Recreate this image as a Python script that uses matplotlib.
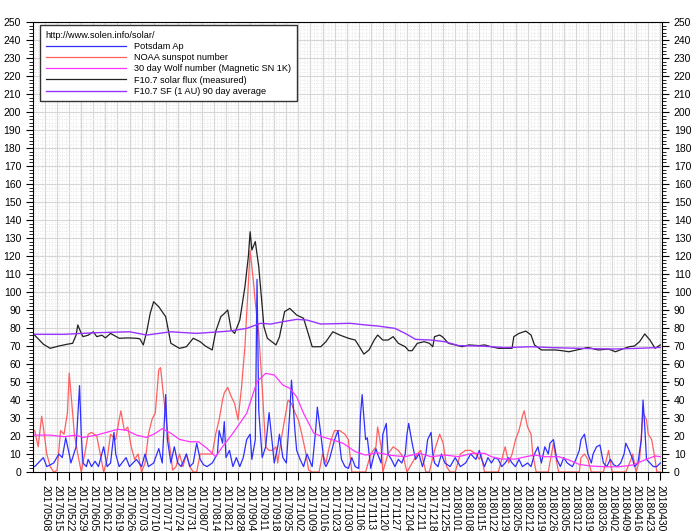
import pandas as pd
import matplotlib
matplotlib.use("Agg")
import matplotlib.pyplot as plt
import matplotlib.dates as mdates
from matplotlib.ticker import MultipleLocator, FixedLocator

plt.rcParams["font.family"] = ["Liberation Sans", "DejaVu Sans"]

# --- data: (day offset from 2017-05-01, value) ---
start = pd.Timestamp("2017-05-01")
end = pd.Timestamp("2018-05-01")
tick_dates = pd.date_range("2017-05-08", "2018-04-30", freq="7D")

potsdam_ap = [
    (1, 3), (6, 8), (8, 3), (12, 5), (15, 10), (17, 8), (19, 19), (21, 10), (22, 5), (25, 14),
    (27, 48), (28, 21), (29, 5), (31, 3), (32, 7), (34, 3), (36, 6), (38, 3), (41, 14), (43, 3),
    (45, 5), (47, 22), (48, 10), (50, 3), (54, 8), (56, 3), (60, 7), (63, 3), (65, 10), (67, 3),
    (70, 5), (73, 13), (75, 5), (77, 43), (78, 18), (80, 5), (82, 14), (84, 5), (86, 3), (89, 10),
    (91, 3), (93, 5), (95, 16), (97, 7), (99, 4), (101, 3), (104, 5), (107, 10), (108, 23), (110, 16),
    (111, 28), (112, 8), (114, 12), (116, 3), (118, 8), (120, 3), (122, 8), (124, 18), (126, 21), (127, 7),
    (129, 18), (130, 107), (131, 34), (133, 8), (135, 14), (137, 33), (139, 14), (140, 5), (142, 14), (143, 21),
    (145, 8), (147, 5), (149, 33), (150, 51), (152, 23), (153, 12), (155, 7), (157, 3), (159, 10), (162, 3),
    (164, 23), (165, 36), (167, 21), (169, 5), (170, 3), (172, 7), (175, 18), (177, 23), (179, 7), (181, 3),
    (183, 2), (185, 8), (187, 3), (189, 2), (190, 31), (191, 43), (193, 18), (194, 19), (196, 2), (198, 10),
    (199, 13), (200, 10), (202, 5), (203, 21), (205, 27), (206, 10), (208, 7), (210, 3), (212, 7), (214, 5),
    (216, 10), (217, 21), (218, 27), (220, 16), (222, 7), (224, 10), (226, 3), (228, 10), (229, 18), (231, 22),
    (232, 10), (233, 5), (235, 3), (237, 10), (239, 5), (242, 3), (245, 8), (248, 3), (251, 5), (254, 10),
    (257, 7), (259, 12), (260, 8), (262, 3), (264, 8), (266, 5), (268, 8), (270, 7), (272, 3), (274, 5),
    (276, 8), (278, 5), (280, 3), (282, 7), (284, 3), (287, 5), (289, 3), (291, 10), (293, 14), (295, 5),
    (297, 14), (299, 10), (300, 16), (302, 18), (304, 7), (306, 3), (308, 8), (310, 5), (313, 3), (315, 7),
    (317, 12), (318, 18), (320, 21), (322, 10), (324, 5), (325, 10), (327, 14), (329, 15), (331, 5), (333, 3),
    (335, 7), (337, 4), (339, 3), (341, 5), (343, 10), (344, 16), (346, 12), (348, 7), (349, 3), (351, 5),
    (353, 18), (354, 40), (355, 25), (356, 7), (358, 5), (360, 3), (362, 3), (364, 5),
]

noaa_ssn = [
    (1, 23), (3, 14), (5, 31), (6, 25), (8, 10), (10, 3), (12, 0), (14, 1), (16, 23), (18, 21),
    (20, 33), (21, 55), (22, 44), (24, 21), (26, 10), (28, 0), (30, 10), (32, 21), (34, 22), (37, 20),
    (39, 10), (41, 0), (43, 7), (45, 21), (48, 18), (50, 29), (51, 34), (53, 23), (55, 25), (57, 14),
    (59, 7), (61, 10), (63, 0), (65, 5), (67, 21), (69, 29), (71, 33), (73, 57), (74, 58), (76, 40),
    (78, 23), (80, 10), (81, 1), (83, 3), (85, 10), (87, 3), (89, 10), (91, 3), (93, 0), (95, 0),
    (97, 10), (99, 10), (101, 10), (104, 10), (106, 21), (108, 29), (110, 40), (111, 44), (113, 47), (115, 42),
    (117, 38), (119, 29), (121, 47), (123, 70), (125, 105), (126, 123), (128, 105), (129, 94), (131, 77), (133, 47),
    (135, 14), (137, 12), (139, 12), (141, 14), (142, 5), (144, 18), (146, 29), (148, 40), (150, 38), (152, 33),
    (154, 29), (156, 21), (158, 12), (160, 1), (162, 0), (164, 0), (166, 0), (168, 10), (170, 5), (171, 10),
    (173, 18), (175, 23), (178, 23), (181, 21), (183, 18), (185, 0), (189, 0), (193, 0), (196, 10), (199, 14),
    (200, 25), (202, 14), (203, 0), (206, 10), (209, 14), (212, 12), (215, 8), (217, 0), (220, 5), (223, 10),
    (225, 12), (228, 0), (230, 0), (233, 12), (236, 21), (238, 16), (240, 3), (242, 0), (245, 0), (248, 10),
    (251, 12), (254, 12), (257, 10), (259, 7), (260, 10), (262, 0), (266, 0), (270, 0), (274, 14), (276, 5),
    (278, 10), (280, 18), (282, 23), (284, 31), (285, 34), (287, 25), (289, 21), (290, 10), (292, 0), (295, 0),
    (299, 0), (302, 16), (303, 10), (305, 0), (309, 0), (313, 0), (317, 0), (318, 8), (320, 10), (322, 7),
    (324, 0), (328, 0), (331, 0), (334, 12), (336, 0), (340, 0), (344, 0), (347, 7), (348, 10), (350, 0),
    (352, 7), (354, 33), (356, 29), (357, 21), (359, 18), (361, 7), (362, 0), (364, 0),
]

wolf_30day = [
    (0, 20.5), (10, 20.5), (18, 19.6), (25, 20.5), (29, 19.2), (37, 20.5), (49, 23.7), (54, 23.3),
    (60, 20.5), (66, 19.2), (71, 21.5), (75, 24.1), (80, 21.5), (85, 18.1), (91, 16.8), (96, 16.8),
    (101, 13.1), (106, 8.5), (110, 14.1), (116, 21.5), (124, 32.6), (130, 50.2), (135, 54.8), (140, 53.9),
    (145, 48.3), (149, 46.5), (153, 41.8), (157, 32.6), (163, 21.5), (169, 19.2), (174, 17.8), (180, 15.9),
    (187, 11.3), (193, 9.4), (200, 10.7), (208, 9.2), (216, 8.5), (224, 10.4), (231, 8.5), (239, 9.4),
    (247, 8.5), (255, 10.4), (262, 10.4), (266, 8.5), (272, 7.2), (280, 7.2), (286, 8.5), (291, 9.4),
    (297, 8.5), (305, 8.5), (311, 6.7), (317, 4.2), (324, 3.3), (332, 2.9), (340, 2.9), (348, 3.9),
    (355, 6.7), (361, 8.9), (364, 8.5),
]

f107_flux = [
    (0, 77), (3, 74), (6, 71), (10, 68.7), (15, 70), (20, 71), (23, 71.5), (25, 76), (26, 81.7), (28, 77),
    (29, 75.2), (32, 76), (35, 77.9), (37, 75.2), (40, 76), (42, 74.5), (45, 77), (50, 74.3), (55, 74.5), (60, 74.3),
    (62, 74), (64, 70.6), (66, 78), (68, 88.1), (70, 94.6), (73, 91.8), (75, 89), (77, 86.3), (80, 71.5), (85, 68.7),
    (89, 69.6), (93, 74.3), (97, 72.4), (100, 70), (104, 67.8), (106, 78), (109, 86.3), (111, 88), (113, 90), (115, 78.9),
    (117, 77), (120, 84.4), (123, 103), (125, 120), (126, 133.5), (127, 123.3), (129, 128), (131, 114), (133, 92), (134, 80.7),
    (136, 74.3), (141, 70.6), (143, 75), (146, 89.1), (149, 90.9), (153, 87.2), (157, 85.4), (160, 76), (162, 69.6), (167, 69.6),
    (170, 72.4), (174, 77.9), (178, 76.1), (183, 74.3), (187, 73.3), (190, 68.7), (192, 65.5), (195, 67.8), (198, 73.3), (200, 76.1),
    (203, 73.3), (206, 73.3), (209, 75.2), (212, 71.5), (216, 69.6), (218, 67.4), (220, 67.4), (223, 71.5), (227, 72.4), (230, 71.5),
    (232, 69.6), (233, 75.2), (236, 76.1), (238, 74.8), (241, 71.5), (245, 70.6), (249, 69.6), (253, 70.6), (259, 70.2), (262, 70.6),
    (266, 69.6), (270, 68.7), (274, 68.7), (278, 68.7), (279, 75.2), (282, 77), (286, 78.3), (289, 76.1), (291, 70.6), (295, 67.8),
    (299, 67.8), (303, 67.8), (307, 67.4), (311, 66.8), (317, 68.1), (322, 69.2), (328, 67.8), (334, 68.3), (338, 66.8), (342, 68.3),
    (346, 69.6), (349, 70), (352, 72.4), (355, 76.7), (358, 73.3), (361, 68.7), (364, 70.6),
]

f107_90day = [
    (0, 76.5), (18, 76.5), (37, 77.4), (56, 77.9), (66, 76.1), (80, 77.9), (95, 77), (114, 78.3),
    (124, 79.8), (132, 82.6), (138, 82.2), (145, 83.5), (153, 84.8), (159, 84.4), (167, 82.2), (184, 82.6),
    (193, 81.7), (200, 81.1), (210, 79.8), (216, 77), (222, 73.7), (231, 73.3), (239, 72.4), (247, 70.2),
    (259, 70), (274, 69.1), (289, 69.6), (301, 69.1), (317, 68.7), (336, 68.3), (351, 68.7), (364, 69.2),
]


def to_series(pairs):
    days, vals = zip(*pairs)
    return start + pd.to_timedelta(days, unit="D"), list(vals)


# --- plot ---
fig = plt.figure(figsize=(7.0, 5.31), dpi=100)
ax = fig.add_axes([33 / 700, 1 - 472 / 531, 629 / 700, 450 / 531])

x, y = to_series(noaa_ssn)
l_ssn, = ax.plot(x, y, color="#ff5050", lw=0.9, alpha=0.9, label="NOAA sunspot number")
x, y = to_series(potsdam_ap)
l_ap, = ax.plot(x, y, color="#2f2fff", lw=0.9, label="Potsdam Ap")
x, y = to_series(wolf_30day)
l_wolf, = ax.plot(x, y, color="#ff33ff", lw=0.9, label="30 day Wolf number (Magnetic SN 1K)")
x, y = to_series(f107_flux)
l_flux, = ax.plot(x, y, color="#222222", lw=0.9, label="F10.7 solar flux (measured)")
x, y = to_series(f107_90day)
l_avg, = ax.plot(x, y, color="#9933ff", lw=1.0, label="F10.7 SF (1 AU) 90 day average")

ax.set_xlim(start, end)
ax.set_ylim(0, 250)

ax.yaxis.set_major_locator(MultipleLocator(10))
ax.yaxis.set_minor_locator(MultipleLocator(2))
ax.xaxis.set_major_locator(FixedLocator(mdates.date2num(tick_dates)))
ax.xaxis.set_minor_locator(mdates.DayLocator(interval=2))
ax.xaxis.set_major_formatter(mdates.DateFormatter("%Y%m%d"))

ax.grid(which="major", color="#d6d6d6", lw=0.8, ls="-")
ax.grid(which="minor", color="#e4e4e4", lw=0.6, ls=":")
ax.set_axisbelow(True)

ax.tick_params(axis="y", which="both", left=True, right=True, labelleft=True, labelright=True,
               labelsize=7.5, direction="out")
ax.tick_params(axis="y", which="major", length=5, width=0.8)
ax.tick_params(axis="y", which="minor", length=3, width=0.6)
ax.tick_params(axis="x", which="major", length=6, width=0.8, labelsize=7.5, labelrotation=270)
ax.tick_params(axis="x", which="minor", length=0)
for lab in ax.get_xticklabels():
    lab.set_va("top")
    lab.set_ha("center")

for s in ax.spines.values():
    s.set_linewidth(0.8)

leg = ax.legend(handles=[l_ap, l_ssn, l_wolf, l_flux, l_avg],
                title="http://www.solen.info/solar/", alignment="left",
                loc="upper left", bbox_to_anchor=(7 / 629, 447 / 450), borderaxespad=0,
                fontsize=6.6, title_fontsize=6.6, handlelength=8.8, handletextpad=0.9,
                labelspacing=0.25, fancybox=False, framealpha=1, edgecolor="#333333",
                borderpad=0.6)
leg.get_frame().set_linewidth(1.0)

plt.savefig("out.png", dpi=100)
